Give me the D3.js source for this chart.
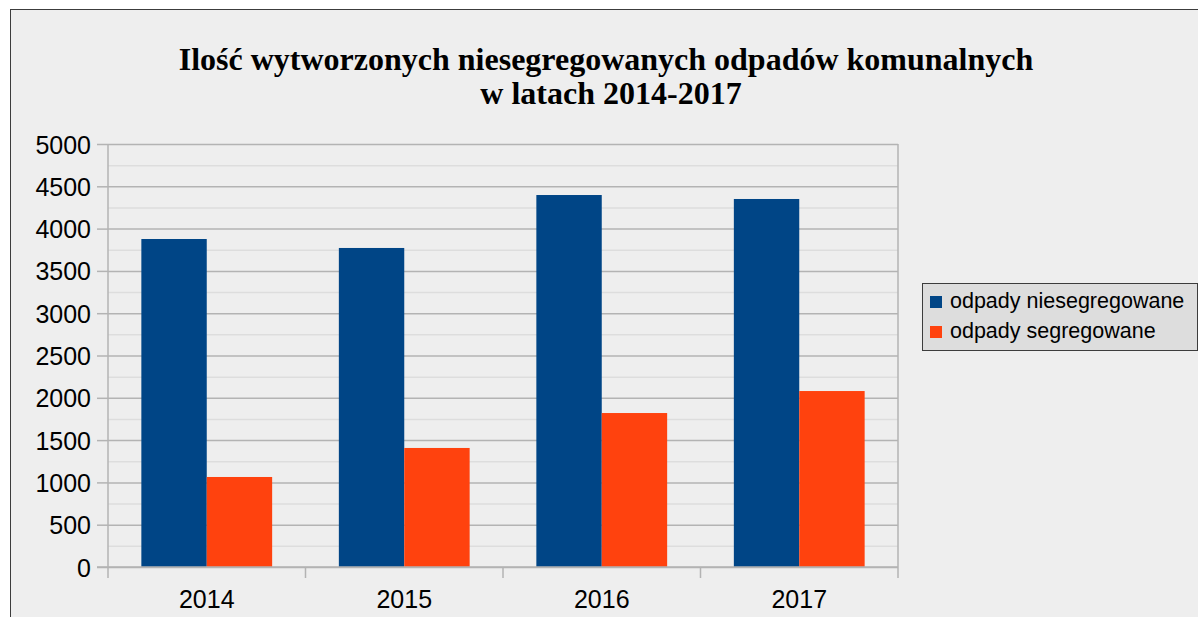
<!DOCTYPE html>
<html>
<head>
<meta charset="utf-8">
<script src="https://cdn.jsdelivr.net/npm/d3@7"></script>
<style>
  body { margin: 0; background: #fff; }
  svg { display: block; }
</style>
</head>
<body>
<div id="chart"></div>
<script>
// Data
const years = ["2014", "2015", "2016", "2017"];
const seriesNames = ["odpady niesegregowane", "odpady segregowane"];
const niesegregowane = [3877, 3771, 4397, 4350];
const segregowane = [1064, 1407, 1820, 2080];
const yTicks = [0, 500, 1000, 1500, 2000, 2500, 3000, 3500, 4000, 4500, 5000];
const titleLines = ["Ilość wytworzonych niesegregowanych odpadów komunalnych", "w latach 2014-2017"];

const colors = ["#004586", "#ff420e"];

function draw(container) {
  const width = 1198;
  const height = 617;
  const margin = ({top: 144, right: 300, bottom: 50, left: 108});
  const plotRight = 898;
  const plotBottom = 567;

  const svg = d3.select(container).append("svg")
    .attr("width", width)
    .attr("height", height);

  // frame of the chart area
  svg.append("rect")
    .attr("x", 10.5).attr("y", 9.5)
    .attr("width", width + 10).attr("height", height + 10)
    .attr("fill", "#eeeeee")
    .attr("stroke", "#3c3c3c")
    .attr("stroke-width", 1);

  /* **************************************
   * Scales
   **************************************** */
  const y = d3.scaleLinear()
    .domain([0, 5000])
    .range([plotBottom, margin.top]);

  const x = d3.scaleBand()
    .domain(years)
    .range([margin.left, plotRight]);

  // two bars take about two thirds of each category
  const xs = d3.scaleBand()
    .domain(seriesNames)
    .range([0, x.bandwidth()])
    .paddingOuter(0.51)
    .paddingInner(0);

  // minor grid lines
  svg.append("g")
    .selectAll("line")
    .data(d3.range(250, 5000, 500))
    .join("line")
      .attr("x1", margin.left).attr("x2", plotRight)
      .attr("y1", d => y(d) + 0.5).attr("y2", d => y(d) + 0.5)
      .attr("stroke", "#dddddd")
      .attr("stroke-width", 1.5);

  // y axis with major grid lines
  const yAxis = g => g
    .attr("transform", `translate(${margin.left},0)`)
    .call(d3.axisLeft(y)
      .tickValues(yTicks)
      .tickFormat(d3.format("d"))
      .tickSize(11)
      .tickPadding(6))
    .call(g => g.select(".domain").remove())
    .call(g => g.selectAll(".tick line").attr("stroke", "#b3b3b3").attr("stroke-width", 1.5))
    .call(g => g.selectAll(".tick").append("line")
      .attr("x1", 0).attr("x2", plotRight - margin.left)
      .attr("stroke", "#b3b3b3").attr("stroke-width", 1.5))
    .call(g => g.selectAll(".tick text")
      .attr("fill", "#000")
      .attr("font-family", "'Liberation Sans', Arial, sans-serif")
      .attr("font-size", 25)
      .attr("dy", "0.36em"));

  svg.append("g").call(yAxis);

  // bars
  const series = [niesegregowane, segregowane];
  svg.append("g")
    .selectAll("g")
    .data(series)
    .join("g")
      .attr("fill", (d, i) => colors[i])
    .selectAll("rect")
    .data((d, i) => d.map((v, j) => ({year: years[j], value: v, s: seriesNames[i]})))
    .join("rect")
      .attr("x", d => x(d.year) + xs(d.s))
      .attr("width", xs.bandwidth())
      .attr("y", d => y(d.value))
      .attr("height", d => y(0) - y(d.value));

  // vertical axis lines
  svg.append("g")
    .selectAll("line")
    .data([margin.left, plotRight])
    .join("line")
      .attr("x1", d => d).attr("x2", d => d)
      .attr("y1", margin.top).attr("y2", plotBottom + 11)
      .attr("stroke", "#b3b3b3").attr("stroke-width", 1.5);

  // x axis
  svg.append("line")
    .attr("x1", margin.left - 11).attr("x2", plotRight)
    .attr("y1", y(0)).attr("y2", y(0))
    .attr("stroke", "#b3b3b3").attr("stroke-width", 1.5);

  svg.append("g")
    .selectAll("line")
    .data(years.slice(1))
    .join("line")
      .attr("x1", d => x(d)).attr("x2", d => x(d))
      .attr("y1", plotBottom).attr("y2", plotBottom + 11)
      .attr("stroke", "#b3b3b3").attr("stroke-width", 1.5);

  svg.append("g")
    .selectAll("text")
    .data(years)
    .join("text")
      .attr("x", d => x(d) + x.bandwidth() / 2)
      .attr("y", 608)
      .attr("text-anchor", "middle")
      .attr("font-family", "'Liberation Sans', Arial, sans-serif")
      .attr("font-size", 25)
      .text(d => d);

  // title
  svg.append("g")
    .selectAll("text")
    .data(titleLines)
    .join("text")
      .attr("x", (d, i) => i === 0 ? 606 : 611)
      .attr("y", (d, i) => 70 + i * 34)
      .attr("text-anchor", "middle")
      .attr("font-family", "'Liberation Serif', 'Times New Roman', serif")
      .attr("font-weight", "bold")
      .attr("font-size", 32)
      .text(d => d);

  // legend
  const legend = svg.append("g");
  legend.append("rect")
    .attr("x", 922.5).attr("y", 283.5)
    .attr("width", 275).attr("height", 67)
    .attr("fill", "#dddddd")
    .attr("stroke", "#3c3c3c");

  const items = legend.selectAll("g")
    .data(seriesNames)
    .join("g")
      .attr("transform", (d, i) => `translate(930,${296 + i * 30})`);
  items.append("rect")
    .attr("width", 12).attr("height", 12)
    .attr("fill", (d, i) => colors[i]);
  items.append("text")
    .attr("x", 20).attr("y", 12)
    .attr("font-family", "'Liberation Sans', Arial, sans-serif")
    .attr("font-size", 21.5)
    .text(d => d);

  return svg.node();
}

draw("#chart");
</script>
</body>
</html>
